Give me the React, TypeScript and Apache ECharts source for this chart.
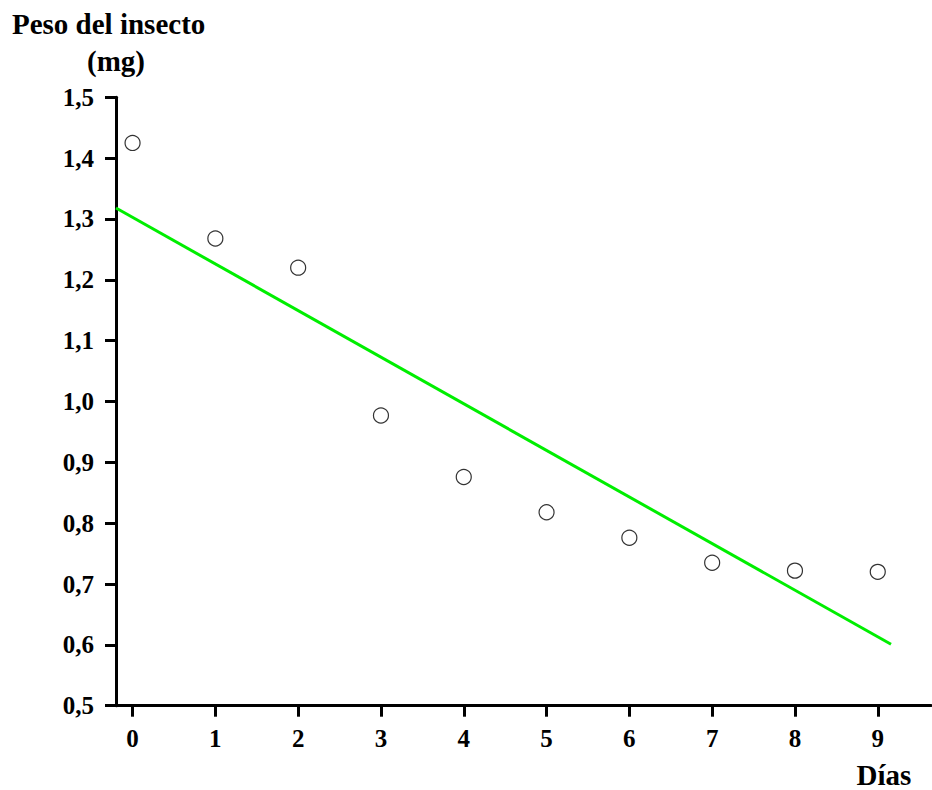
import React, { useEffect, useRef } from "react";
import * as echarts from "echarts";

const days = [0, 1, 2, 3, 4, 5, 6, 7, 8, 9];
const weights = [1.425, 1.268, 1.22, 0.977, 0.876, 0.818, 0.776, 0.735, 0.722, 0.72];
const trendX = [-0.2, 9.16];
const trendY = [1.318, 0.601];
const xTicks = [0, 1, 2, 3, 4, 5, 6, 7, 8, 9];

const FONT = "'Liberation Serif', 'Times New Roman', serif";

export default function App() {
  const ref = useRef<HTMLDivElement>(null);
  useEffect(() => {
    if (!ref.current) return;
    const chart = echarts.init(ref.current, undefined, { renderer: "svg" });
    const axisLine = { show: true, onZero: false, lineStyle: { color: "#000", width: 3 } };
    const axisTick = { show: true, length: 11, lineStyle: { color: "#000", width: 3 } };
    chart.setOption({
      animation: false,
      backgroundColor: "#fff",
      grid: { left: 116, right: 1, top: 97.3, bottom: 84.3, containLabel: false },
      xAxis: {
        type: "value",
        min: -0.2,
        max: 9.643,
        axisLine,
        splitLine: { show: false },
        axisTick: { ...axisTick, customValues: xTicks },
        axisLabel: {
          customValues: xTicks,
          margin: 20,
          color: "#000",
          fontFamily: FONT,
          fontWeight: "bold",
          fontSize: 25,
          formatter: (v: number) => String(Math.round(v)),
        },
      },
      yAxis: {
        type: "value",
        min: 0.5,
        max: 1.5,
        interval: 0.1,
        axisLine,
        axisTick,
        splitLine: { show: false },
        axisLabel: {
          margin: 22,
          color: "#000",
          fontFamily: FONT,
          fontWeight: "bold",
          fontSize: 25,
          formatter: (v: number) => v.toFixed(1).replace(".", ","),
        },
      },
      graphic: [
        {
          type: "text",
          left: 12,
          top: 9,
          style: { text: "Peso del insecto", font: `bold 29px ${FONT}`, fill: "#000" },
        },
        {
          type: "text",
          x: 116,
          y: 61,
          style: {
            text: "(mg)",
            font: `bold 29px ${FONT}`,
            fill: "#000",
            align: "center",
            verticalAlign: "middle",
          },
        },
        {
          type: "text",
          x: 884,
          y: 774.5,
          style: {
            text: "Días",
            font: `bold 29px ${FONT}`,
            fill: "#000",
            align: "center",
            verticalAlign: "middle",
          },
        },
      ],
      series: [
        {
          type: "line",
          data: trendX.map((x, i) => [x, trendY[i]]),
          symbol: "none",
          lineStyle: { color: "#00ee00", width: 3 },
          z: 2,
        },
        {
          type: "scatter",
          data: days.map((d, i) => [d, weights[i]]),
          symbol: "circle",
          symbolSize: 15,
          itemStyle: { color: "#fff", borderColor: "#000", borderWidth: 1.2 },
          z: 3,
        },
      ],
    });
    return () => chart.dispose();
  }, []);
  return (
    <div
      ref={ref}
      style={{ position: "absolute", left: 0, top: 0, width: 932, height: 790 }}
    />
  );
}
